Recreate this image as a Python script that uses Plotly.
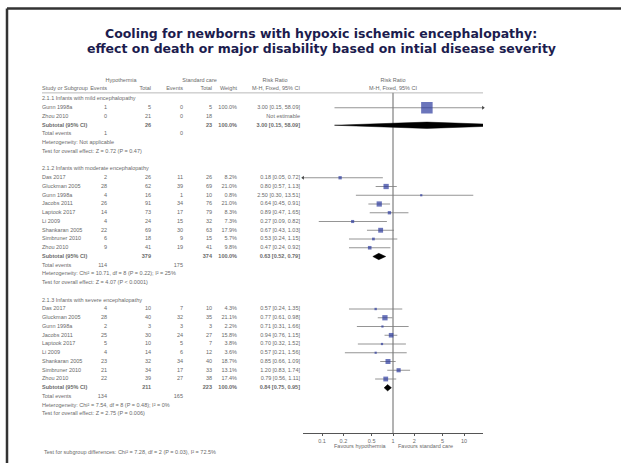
import numpy as np
import plotly.graph_objects as go

# ---------------- data ----------------
group_titles = ["2.1.1 Infants with mild encephalopathy",
                "2.1.2 Infants with moderate encephalopathy",
                "2.1.3 Infants with severe encephalopathy"]

mild_studies = ["Gunn 1998a", "Zhou 2010"]
mild_hypo_events = [1, 0]
mild_hypo_total = [5, 21]
mild_std_events = [0, 0]
mild_std_total = [5, 18]
mild_weight = [100.0, None]
mild_rr = [3.00, None]
mild_lo = [0.15, None]
mild_hi = [58.09, None]

mod_studies = ["Das 2017", "Gluckman 2005", "Gunn 1998a", "Jacobs 2011", "Laptook 2017",
               "Li 2009", "Shankaran 2005", "Simbruner 2010", "Zhou 2010"]
mod_hypo_events = [2, 28, 4, 26, 14, 4, 22, 6, 9]
mod_hypo_total = [26, 62, 16, 91, 73, 24, 69, 18, 41]
mod_std_events = [11, 39, 1, 34, 17, 15, 30, 9, 19]
mod_std_total = [26, 69, 10, 76, 79, 32, 63, 15, 41]
mod_weight = [8.2, 21.0, 0.8, 21.0, 8.3, 7.3, 17.9, 5.7, 9.8]
mod_rr = [0.18, 0.80, 2.50, 0.64, 0.89, 0.27, 0.67, 0.53, 0.47]
mod_lo = [0.05, 0.57, 0.30, 0.45, 0.47, 0.09, 0.43, 0.24, 0.24]
mod_hi = [0.72, 1.13, 13.51, 0.91, 1.65, 0.82, 1.03, 1.15, 0.92]

sev_studies = ["Das 2017", "Gluckman 2005", "Gunn 1998a", "Jacobs 2011", "Laptook 2017",
               "Li 2009", "Shankaran 2005", "Simbruner 2010", "Zhou 2010"]
sev_hypo_events = [4, 28, 2, 25, 5, 4, 23, 21, 22]
sev_hypo_total = [10, 40, 3, 30, 10, 14, 32, 34, 39]
sev_std_events = [7, 32, 3, 24, 5, 6, 34, 17, 27]
sev_std_total = [10, 35, 3, 27, 7, 12, 40, 33, 38]
sev_weight = [4.3, 21.1, 2.2, 15.8, 3.8, 3.6, 18.7, 13.1, 17.4]
sev_rr = [0.57, 0.77, 0.71, 0.94, 0.70, 0.57, 0.85, 1.20, 0.79]
sev_lo = [0.24, 0.61, 0.31, 0.76, 0.32, 0.21, 0.66, 0.83, 0.56]
sev_hi = [1.35, 0.98, 1.66, 1.15, 1.52, 1.56, 1.09, 1.74, 1.11]

sub_hypo_total = [26, 379, 211]
sub_std_total = [23, 374, 223]
sub_rr = [3.00, 0.63, 0.84]
sub_lo = [0.15, 0.52, 0.75]
sub_hi = [58.09, 0.79, 0.95]
tot_hypo_events = [1, 114, 134]
tot_std_events = [0, 175, 165]
heterogeneity = ["Heterogeneity: Not applicable",
                 "Heterogeneity: Chi² = 10.71, df = 8 (P = 0.22); I² = 25%",
                 "Heterogeneity: Chi² = 7.54, df = 8 (P = 0.48); I² = 0%"]
overall_effect = ["Test for overall effect: Z = 0.72 (P = 0.47)",
                  "Test for overall effect: Z = 4.07 (P < 0.0001)",
                  "Test for overall effect: Z = 2.75 (P = 0.006)"]
subgroup_test = "Test for subgroup differences: Chi² = 7.28, df = 2 (P = 0.03), I² = 72.5%"

axis_ticks = [0.1, 0.2, 0.5, 1, 2, 5, 10]
axis_ticktext = ["0.1", "0.2", "0.5", "1", "2", "5", "10"]

title_lines = ["Cooling for newborns with hypoxic ischemic encephalopathy:",
               "effect on death or major disability based on intial disease severity"]
favours = ["Favours hypothermia", "Favours standard care"]

# ---------------- layout constants ----------------
W, H = 621, 463
ROW_TOP_PX = 99.0
ROW_PX = 8.75
AXIS_PX = 433.0
PLOT_L, PLOT_R = 303.0, 483.0
DECADE_PX = 71.0
HALF = (PLOT_R - PLOT_L) / 2 / DECADE_PX

COL_NAME, COL_E1, COL_N1, COL_E2, COL_N2, COL_W, COL_CI = 42, 107, 151, 183, 212, 237, 300

TXT = "#6a6a6a"
FONT = "Liberation Sans, Arial, sans-serif"
FS = 5.5

r_top = (0 - ROW_TOP_PX) / ROW_PX
r_bot = (AXIS_PX - ROW_TOP_PX) / ROW_PX

groups = [
    (mild_studies, mild_hypo_events, mild_hypo_total, mild_std_events, mild_std_total, mild_weight, mild_rr, mild_lo, mild_hi),
    (mod_studies, mod_hypo_events, mod_hypo_total, mod_std_events, mod_std_total, mod_weight, mod_rr, mod_lo, mod_hi),
    (sev_studies, sev_hypo_events, sev_hypo_total, sev_std_events, sev_std_total, sev_weight, sev_rr, sev_lo, sev_hi),
]

txt = {"left": ([], [], []), "right": ([], [], []), "center": ([], [], [])}


def put(al, x, y, t):
    txt[al][0].append(x)
    txt[al][1].append(y)
    txt[al][2].append(t)


def ci(rr, lo, hi):
    return f"{rr:.2f} [{lo:.2f}, {hi:.2f}]"


# headers
H1, H2, UL = -2.05, -1.2, -0.7
put("center", (COL_E1 + COL_N1) / 2 - 8, H1, "Hypothermia")
put("center", (COL_E2 + COL_N2) / 2 + 2, H1, "Standard care")
put("center", COL_CI - 25, H1, "Risk Ratio")
put("left", COL_NAME, H2, "Study or Subgroup")
put("right", COL_E1, H2, "Events")
put("right", COL_N1, H2, "Total")
put("right", COL_E2, H2, "Events")
put("right", COL_N2, H2, "Total")
put("right", COL_W, H2, "Weight")
put("right", COL_CI, H2, "M-H, Fixed, 95% CI")

st_rr, st_lo, st_hi, st_w, st_y = [], [], [], [], []
sb_y = []
row = 0
for g, (names, e1, n1, e2, n2, w, rr, lo, hi) in enumerate(groups):
    put("left", COL_NAME, row, group_titles[g])
    row += 1
    for i, nm in enumerate(names):
        put("left", COL_NAME, row, nm)
        put("right", COL_E1, row, str(e1[i]))
        put("right", COL_N1, row, str(n1[i]))
        put("right", COL_E2, row, str(e2[i]))
        put("right", COL_N2, row, str(n2[i]))
        if rr[i] is None:
            put("right", COL_CI, row, "Not estimable")
        else:
            put("right", COL_W, row, f"{w[i]:.1f}%")
            put("right", COL_CI, row, ci(rr[i], lo[i], hi[i]))
            st_rr.append(rr[i]); st_lo.append(lo[i]); st_hi.append(hi[i])
            st_w.append(w[i]); st_y.append(row)
        row += 1
    put("left", COL_NAME, row, "<b>Subtotal (95% CI)</b>")
    put("right", COL_N1, row, f"<b>{sub_hypo_total[g]}</b>")
    put("right", COL_N2, row, f"<b>{sub_std_total[g]}</b>")
    put("right", COL_W, row, "<b>100.0%</b>")
    put("right", COL_CI, row, "<b>" + ci(sub_rr[g], sub_lo[g], sub_hi[g]) + "</b>")
    sb_y.append(row)
    row += 1
    put("left", COL_NAME, row, "Total events")
    put("right", COL_E1, row, str(tot_hypo_events[g]))
    put("right", COL_E2, row, str(tot_std_events[g]))
    row += 1
    put("left", COL_NAME, row, heterogeneity[g])
    row += 1
    put("left", COL_NAME, row, overall_effect[g])
    row += 2

fig = go.Figure()

# text columns
posmap = {"left": "middle right", "right": "middle left", "center": "middle center"}
for al, (xs, ys, ts) in txt.items():
    fig.add_trace(go.Scatter(x=xs, y=ys, text=ts, mode="text", textposition=posmap[al],
                             textfont=dict(family=FONT, size=FS, color=TXT),
                             xaxis="x2", yaxis="y", cliponaxis=False, hoverinfo="skip"))

# forest header
fig.add_trace(go.Scatter(x=[1, 1], y=[H1, H2], text=["Risk Ratio", "M-H, Fixed, 95% CI"],
                         mode="text", textposition="middle center",
                         textfont=dict(family=FONT, size=FS, color=TXT),
                         xaxis="x", yaxis="y", cliponaxis=False, hoverinfo="skip"))

# line of no effect
fig.add_trace(go.Scatter(x=[1, 1], y=[UL, r_bot], mode="lines",
                         line=dict(color="#555555", width=0.9), xaxis="x", yaxis="y", hoverinfo="skip"))

# confidence intervals
lx, ly = [], []
for a, b, y in zip(st_lo, st_hi, st_y):
    lx += [a, b, None]
    ly += [y, y, None]
fig.add_trace(go.Scatter(x=lx, y=ly, mode="lines", line=dict(color="#7a7a7a", width=0.8),
                         xaxis="x", yaxis="y", hoverinfo="skip"))

# arrows for intervals beyond the axis
xmin, xmax = 10 ** (-HALF), 10 ** HALF
ax_, ay_, asym = [], [], []
for a, b, y in zip(st_lo, st_hi, st_y):
    if a < xmin:
        ax_.append(xmin); ay_.append(y); asym.append("triangle-left")
    if b > xmax:
        ax_.append(xmax); ay_.append(y); asym.append("triangle-right")
fig.add_trace(go.Scatter(x=ax_, y=ay_, mode="markers",
                         marker=dict(symbol=asym, size=3.5, color="#444444"),
                         xaxis="x", yaxis="y", cliponaxis=False, hoverinfo="skip"))

# study squares
fig.add_trace(go.Scatter(x=st_rr, y=st_y, mode="markers",
                         marker=dict(symbol="square", color="#2c3a9e",
                                     size=[max(2.2, 11.5 * np.sqrt(w / 100)) for w in st_w],
                                     line=dict(width=0)),
                         xaxis="x", yaxis="y", hoverinfo="skip"))

# subtotal diamonds
DH = 0.36
for g in range(3):
    y = sb_y[g]
    fig.add_trace(go.Scatter(x=[sub_lo[g], sub_rr[g], sub_hi[g], sub_rr[g], sub_lo[g]],
                             y=[y, y - DH, y, y + DH, y], mode="lines", fill="toself",
                             fillcolor="black", line=dict(color="black", width=0.5),
                             xaxis="x", yaxis="y", hoverinfo="skip"))

annotations = []
for i, (t, ypx) in enumerate(zip(title_lines, [34, 49])):
    annotations.append(dict(text=f"<b>{t}</b>", x=321 / W, y=1 - ypx / H, xref="paper", yref="paper",
                            xanchor="center", yanchor="middle", showarrow=False,
                            font=dict(family="DejaVu Sans, Verdana, sans-serif", size=12.5, color="#1c1c4e")))
annotations.append(dict(text=favours[0], x=0, y=1 - 446 / H, xref="x", yref="paper", xanchor="right",
                        xshift=-4, yanchor="middle", showarrow=False,
                        font=dict(family=FONT, size=FS, color=TXT)))
annotations.append(dict(text=favours[1], x=0, y=1 - 446 / H, xref="x", yref="paper", xanchor="left",
                        xshift=3, yanchor="middle", showarrow=False,
                        font=dict(family=FONT, size=FS, color=TXT)))
annotations.append(dict(text=subgroup_test, x=COL_NAME / W, y=1 - 452 / H, xref="paper", yref="paper",
                        xanchor="left", yanchor="middle", showarrow=False,
                        font=dict(family=FONT, size=FS, color=TXT)))

shapes = [
    dict(type="line", xref="paper", yref="paper", x0=7 / W, x1=1, y0=1 - 8.5 / H, y1=1 - 8.5 / H,
         line=dict(color="#333333", width=2.5)),
    dict(type="line", xref="paper", yref="paper", x0=7 / W, x1=7 / W, y0=0, y1=1 - 8.5 / H,
         line=dict(color="#333333", width=2.5)),
    dict(type="line", xref="paper", yref="y", x0=COL_NAME / W, x1=PLOT_R / W, y0=UL, y1=UL,
         line=dict(color="#8a8a8a", width=0.6)),
]

fig.update_layout(
    width=W, height=H, margin=dict(l=0, r=0, t=0, b=0),
    paper_bgcolor="white", plot_bgcolor="rgba(0,0,0,0)", showlegend=False,
    xaxis=dict(domain=[PLOT_L / W, PLOT_R / W], type="log", range=[-HALF, HALF], anchor="y",
               showline=True, linecolor="#555555", linewidth=0.9, ticks="outside", ticklen=2.5,
               tickcolor="#555555", tickwidth=0.8, tickvals=axis_ticks, ticktext=axis_ticktext,
               tickfont=dict(family=FONT, size=FS, color=TXT), showgrid=False, zeroline=False,
               fixedrange=True),
    xaxis2=dict(domain=[0, PLOT_L / W], range=[0, PLOT_L], anchor="y", visible=False, fixedrange=True),
    yaxis=dict(domain=[(H - AXIS_PX) / H, 1], range=[r_bot, r_top], visible=False, fixedrange=True),
    annotations=annotations, shapes=shapes,
)

fig.write_html("out.html")
